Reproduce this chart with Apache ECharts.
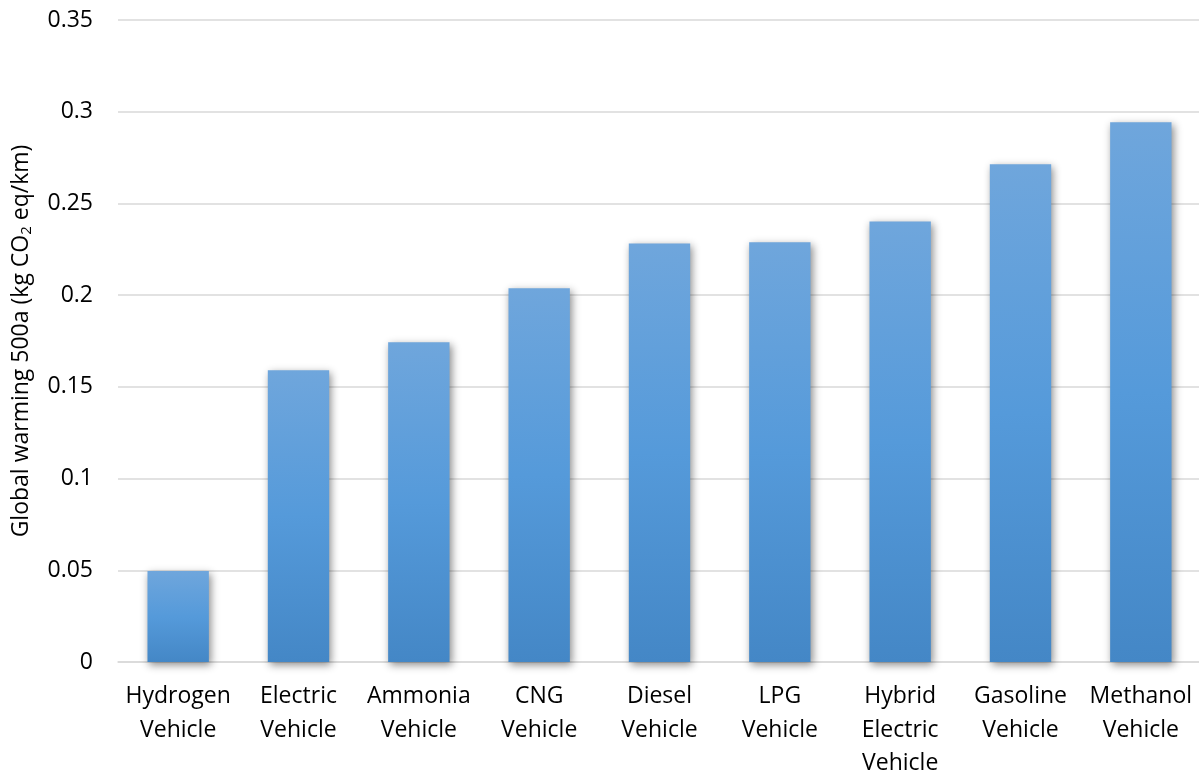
<!DOCTYPE html>
<html>
<head>
<meta charset="utf-8">
<script src="https://cdn.jsdelivr.net/npm/echarts@6/dist/echarts.min.js"></script>
<style>
  html, body { margin: 0; padding: 0; background: #ffffff; overflow: hidden; }
  #chart { width: 1199px; height: 774px; }
</style>
</head>
<body>
<div id="chart"></div>
<script>
// Vehicle types, in ascending order of emissions
const categories = [
  'Hydrogen\nVehicle', 'Electric\nVehicle', 'Ammonia\nVehicle', 'CNG\nVehicle',
  'Diesel\nVehicle', 'LPG\nVehicle', 'Hybrid\nElectric\nVehicle',
  'Gasoline\nVehicle', 'Methanol\nVehicle'
];
// Global warming potential, 500-year horizon (kg CO2 eq per km)
const values = [0.0496, 0.159, 0.1743, 0.2037, 0.2282, 0.2288, 0.2402, 0.2713, 0.2942];
const yTicks = { min: 0, max: 0.35, interval: 0.05 };

const FONT = '"Open Sans", "Noto Sans", sans-serif';

const chart = echarts.init(document.getElementById('chart'), null, { renderer: 'canvas' });
chart.setOption({
  backgroundColor: '#ffffff',
  animation: false,
  grid: {
    left: 118, right: -2, top: 20, bottom: 112,
    containLabel: false, outerBoundsMode: 'none'
  },
  xAxis: {
    type: 'category',
    data: categories,
    axisLine: { show: true, lineStyle: { color: '#d9d9d9', width: 1.5 } },
    axisTick: { show: false },
    axisLabel: {
      color: '#000000', fontFamily: FONT, fontSize: 23, lineHeight: 33.5,
      margin: 18, interval: 0
    }
  },
  yAxis: {
    type: 'value',
    min: yTicks.min, max: yTicks.max, interval: yTicks.interval,
    name: 'Global warming 500a (kg CO{sub|2} eq/km)',
    nameLocation: 'middle',
    nameRotate: 90,
    nameGap: 84,
    nameTextStyle: {
      color: '#000000', fontFamily: FONT, fontSize: 23,
      rich: {
        sub: { fontFamily: FONT, fontSize: 15, color: '#000000', verticalAlign: 'bottom', padding: [10, 0, 0, 0] }
      }
    },
    axisLine: { show: false },
    axisTick: { show: false },
    axisLabel: {
      color: '#000000', fontFamily: FONT, fontSize: 23, margin: 25,
      formatter: v => (Math.round(v * 100) / 100).toString()
    },
    splitLine: { lineStyle: { color: '#d9d9d9', width: 1.5 } }
  },
  series: [{
    type: 'bar',
    data: values,
    barWidth: '51%',
    itemStyle: {
      color: new echarts.graphic.LinearGradient(0, 0, 0, 1, [
        { offset: 0, color: '#6fa6dc' },
        { offset: 0.5, color: '#559ada' },
        { offset: 1, color: '#4487c6' }
      ]),
      shadowColor: 'rgba(0,0,0,0.45)',
      shadowBlur: 8,
      shadowOffsetX: 2,
      shadowOffsetY: 3
    }
  }]
});
</script>
</body>
</html>
